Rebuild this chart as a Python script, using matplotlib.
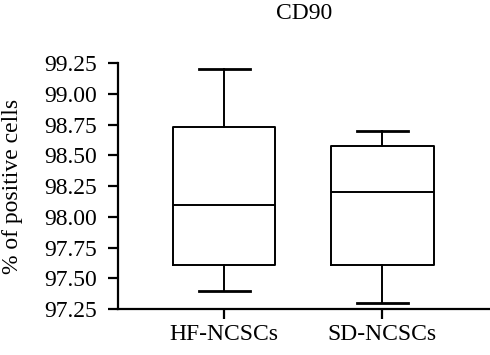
import matplotlib
matplotlib.use("Agg")
import matplotlib.pyplot as plt

groups = ["HF-NCSCs", "SD-NCSCs"]
whisker_low = [97.40, 97.30]
q1 = [97.61, 97.61]
medians = [98.10, 98.20]
q3 = [98.73, 98.58]
whisker_high = [99.20, 98.70]

plt.rcParams["font.family"] = ["Liberation Serif", "DejaVu Serif"]

fig = plt.figure(figsize=(4.9, 3.55), dpi=100)
ax = fig.add_axes([0.241, 0.129, 0.759, 0.693])

stats = []
for i, name in enumerate(groups):
    stats.append({
        "label": name,
        "whislo": whisker_low[i],
        "q1": q1[i],
        "med": medians[i],
        "q3": q3[i],
        "whishi": whisker_high[i],
        "fliers": [],
    })

lw = 1.4
ax.bxp(stats, positions=[1, 2], widths=0.646, showfliers=False,
       boxprops=dict(color="black", linewidth=lw),
       medianprops=dict(color="black", linewidth=lw),
       whiskerprops=dict(color="black", linewidth=lw),
       capprops=dict(color="black", linewidth=2.0),
       capwidths=0.323)

ax.set_xlim(0.329, 2.68)
ax.set_ylim(97.25, 99.25)
ax.set_yticks([97.25, 97.5, 97.75, 98.0, 98.25, 98.5, 98.75, 99.0, 99.25])
ax.set_yticklabels(["97.25", "97.50", "97.75", "98.00", "98.25", "98.50",
                    "98.75", "99.00", "99.25"])
ax.set_xticks([1, 2])
ax.set_xticklabels(groups)

for s in ["top", "right"]:
    ax.spines[s].set_visible(False)
for s in ["left", "bottom"]:
    ax.spines[s].set_linewidth(1.6)

ax.tick_params(axis="both", labelsize=17, length=7, width=1.6, colors="black")
ax.tick_params(axis="y", pad=8)
ax.tick_params(axis="x", pad=4)
ax.set_ylabel("% of positive cells", fontsize=17)
ax.yaxis.set_label_coords(-0.255, 0.5)
fig.text(0.62, 0.963, "CD90", ha="center", va="center", fontsize=17)

fig.savefig("out.png", dpi=100)
